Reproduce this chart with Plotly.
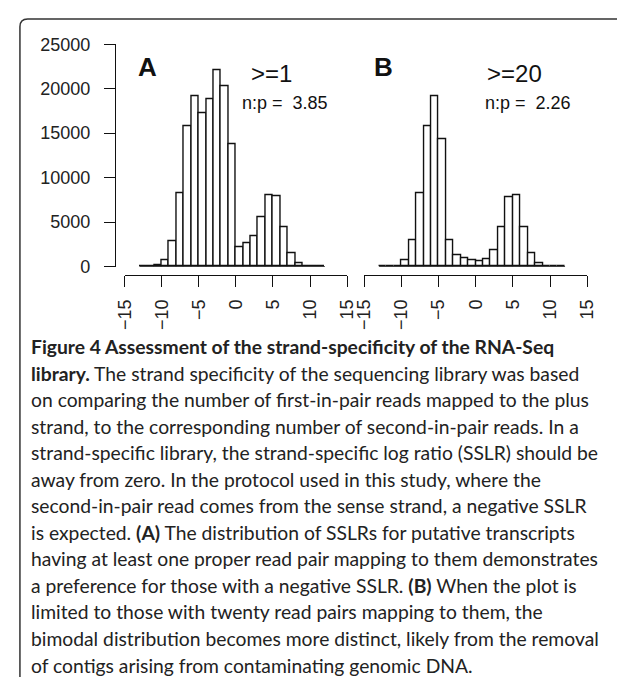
import plotly.graph_objects as go

# the page body keeps an 8px margin on every side; the figure fills the rest exactly
PAGE_MARGIN = 8
W, H = 625 - 2 * PAGE_MARGIN, 685 - 2 * PAGE_MARGIN

# ---- data ----
bin_left = list(range(-13, 12))  # bins of width 1 from -13 to 12
counts_A = [10, 30, 110, 720, 2890, 8200, 15790, 19110, 17300, 18790, 22110, 20230, 13760,
            2240, 2600, 3430, 5560, 8020, 7950, 4480, 1520, 360, 100, 30, 10]
counts_B = [5, 20, 70, 760, 2930, 8270, 15790, 19110, 14340, 2960, 1300, 900, 760,
            610, 830, 1840, 4410, 7840, 7980, 4480, 1480, 360, 80, 25, 10]
x_ticks = [-15, -10, -5, 0, 5, 10, 15]
y_ticks = [0, 5000, 10000, 15000, 20000, 25000]
panel_labels = ["A", "B"]
thresholds = [">=1", ">=20"]
ratios = ["3.85", "2.26"]

caption_lines = [
    "<b>Figure 4 Assessment of the strand-specificity of the RNA-Seq</b>",
    "<b>library.</b> The strand specificity of the sequencing library was based",
    "on comparing the number of first-in-pair reads mapped to the plus",
    "strand, to the corresponding number of second-in-pair reads. In a",
    "strand-specific library, the strand-specific log ratio (SSLR) should be",
    "away from zero. In the protocol used in this study, where the",
    "second-in-pair read comes from the sense strand, a negative SSLR",
    "is expected. <b>(A)</b> The distribution of SSLRs for putative transcripts",
    "having at least one proper read pair mapping to them demonstrates",
    "a preference for those with a negative SSLR. <b>(B)</b> When the plot is",
    "limited to those with twenty read pairs mapping to them, the",
    "bimodal distribution becomes more distinct, likely from the removal",
    "of contigs arising from contaminating genomic DNA.",
]

def px(x):
    return (x - PAGE_MARGIN) / W

def py(y):
    return 1 - (y - PAGE_MARGIN) / H

centers = [b + 0.5 for b in bin_left]
edges = [bin_left[0], bin_left[-1] + 1]

fig = go.Figure()
for i, counts in enumerate([counts_A, counts_B]):
    xa = "x" if i == 0 else "x2"
    ya = "y" if i == 0 else "y2"
    fig.add_trace(go.Scatter(x=edges, y=[0, 0], mode="lines",
                             line=dict(color="#111", width=1.4),
                             xaxis=xa, yaxis=ya, showlegend=False, hoverinfo="skip"))
    fig.add_trace(go.Bar(x=centers, y=counts, width=1,
                         marker=dict(color="white", line=dict(color="#111", width=1.4)),
                         xaxis=xa, yaxis=ya, showlegend=False))

tickfont = dict(family="Liberation Sans, Arial, sans-serif", size=18, color="#222")
xaxis_common = dict(range=[-15, 15], tickvals=x_ticks,
                    ticktext=[("\u2212" + str(-t)) if t < 0 else str(t) for t in x_ticks],
                    tickangle=-90, ticks="outside", ticklen=11, tickwidth=1.3,
                    tickcolor="#111", showline=True, linecolor="#111", linewidth=1.3,
                    showgrid=False, zeroline=False, anchor="free",
                    position=py(273), tickfont=tickfont, ticklabelstandoff=5)
fig.update_layout(
    width=W, height=H,
    margin=dict(l=0, r=0, t=0, b=0),
    paper_bgcolor="white", plot_bgcolor="rgba(0,0,0,0)",
    bargap=0,
    xaxis=dict(domain=[px(118.3), px(348.3)], **xaxis_common),
    xaxis2=dict(domain=[px(366), px(596.7)], **xaxis_common),
    yaxis=dict(domain=[py(264.3), py(35)], range=[0, 25000], tickvals=y_ticks,
               ticktext=[str(t) for t in y_ticks],
               ticks="outside", ticklen=11, tickwidth=1.3, tickcolor="#111",
               showline=True, linecolor="#111", linewidth=1.3, showgrid=False,
               zeroline=False, anchor="free", position=px(108.3),
               tickfont=tickfont, ticklabelstandoff=10),
    yaxis2=dict(domain=[py(264.3), py(35)], range=[0, 25000], visible=False,
                anchor="x2"),
)

annots = []
lab_font = "Liberation Sans, Arial, sans-serif"
pos = [dict(l=(141.7, 59), t=(270, 65), r=(284, 96)),
       dict(l=(386, 59), t=(521, 65), r=(535.7, 96))]
for i in range(2):
    p = pos[i]
    annots.append(dict(x=px(p["l"][0]), y=py(p["l"][1]), xref="paper", yref="paper",
                       text="<b>" + panel_labels[i] + "</b>", showarrow=False,
                       xanchor="center", yanchor="middle",
                       font=dict(family=lab_font, size=26, color="#111")))
    annots.append(dict(x=px(p["t"][0]), y=py(p["t"][1]), xref="paper", yref="paper",
                       text=thresholds[i], showarrow=False,
                       xanchor="center", yanchor="middle",
                       font=dict(family=lab_font, size=24, color="#111")))
    annots.append(dict(x=px(p["r"][0]), y=py(p["r"][1]), xref="paper", yref="paper",
                       text="n:p =  " + ratios[i], showarrow=False,
                       xanchor="center", yanchor="middle",
                       font=dict(family=lab_font, size=18, color="#111")))

for k, line in enumerate(caption_lines):
    annots.append(dict(x=px(20), y=py(347 + k * 27.33), xref="paper", yref="paper",
                       text=line, showarrow=False, xanchor="left", yanchor="middle",
                       borderpad=0,
                       font=dict(family="Lato, sans-serif", size=19.3, color="#222")))
fig.update_layout(annotations=annots)

# rounded frame (open on the right side; bottom runs off the page)
r = 8
x0, y0, xr, yb = 10, 9, 640, 700
path = (f"M {px(xr)},{py(y0)} L {px(x0 + r)},{py(y0)} "
        f"Q {px(x0)},{py(y0)} {px(x0)},{py(y0 + r)} "
        f"L {px(x0)},{py(yb)}")
fig.add_shape(type="path", path=path, xref="paper", yref="paper",
              line=dict(color="#333", width=1.5))

fig.write_html("out.html", config={"displayModeBar": False})
